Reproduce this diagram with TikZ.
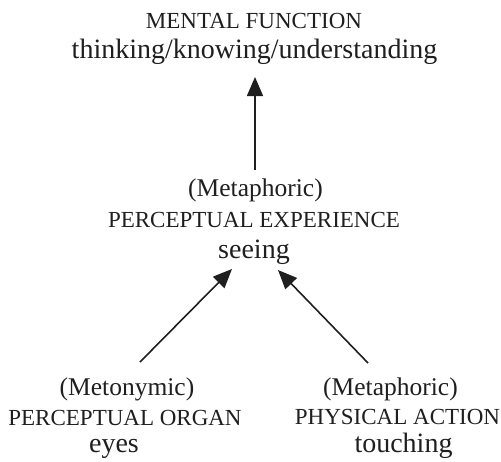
\documentclass[tikz,border=0pt]{standalone}
\usepackage{fontspec}
\setmainfont{Liberation Serif}
\usetikzlibrary{arrows.meta}
\tikzset{
  lbl/.style={anchor=base, inner sep=0pt, text=black!88},
  paren/.style={lbl, font=\fontsize{25.5}{26}\selectfont},
  caps/.style={lbl, font=\fontsize{23}{24}\selectfont},
  lower/.style={lbl, font=\fontsize{28}{29}\selectfont},
  arr/.style={line width=1.6pt, draw=black!88, -{Triangle[length=19pt,width=16pt]}}
}
\begin{document}
\begin{tikzpicture}[x=1pt,y=-1pt]
\useasboundingbox (0,0) rectangle (501,461);
% top group
\node[caps]  (mf) at (254,28.5) {MENTAL FUNCTION};
\node[lower] (tk) at (254.5,58) {thinking/knowing/understanding};
% middle group
\node[paren] (pm) at (255.5,196) {(Metaphoric)};
\node[caps]  (pe) at (254,227) {PERCEPTUAL EXPERIENCE};
\node[lower] (se) at (254,258) {seeing};
% bottom left
\node[paren] (lm) at (127,395) {(Metonymic)};
\node[caps]  (po) at (125,425) {PERCEPTUAL ORGAN};
\node[lower] (ey) at (114,452) {eyes};
% bottom right
\node[paren] (rm) at (390.5,395) {(Metaphoric)};
\node[caps]  (pa) at (397.5,424) {PHYSICAL ACTION};
\node[lower] (to) at (403.5,452) {touching};
% connector ends
\coordinate (upS) at (255,170);
\coordinate (upE) at (255,77);
\coordinate (lS) at (140,362);
\coordinate (lE) at (232,269);
\coordinate (rS) at (368,363);
\coordinate (rE) at (278,270);
\draw[arr] (upS) -- (upE);
\draw[arr] (lS) -- (lE);
\draw[arr] (rS) -- (rE);
\end{tikzpicture}
\end{document}
